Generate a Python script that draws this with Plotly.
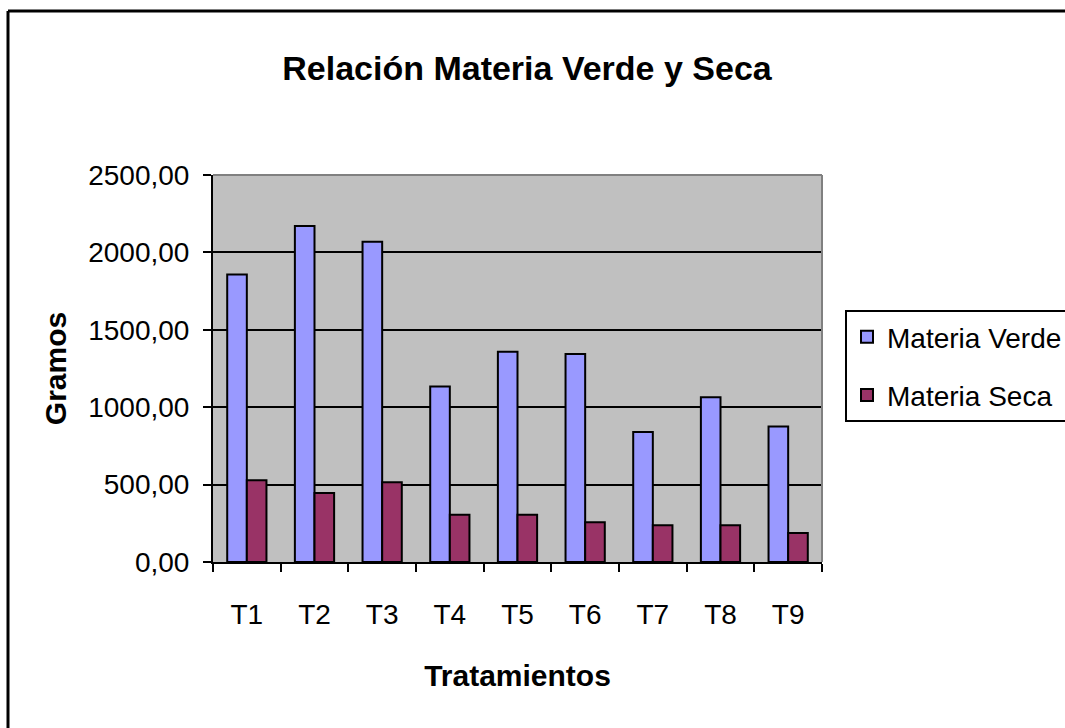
import plotly.graph_objects as go

categories = ["T1", "T2", "T3", "T4", "T5", "T6", "T7", "T8", "T9"]
materia_verde = [1858, 2170, 2069, 1134, 1358, 1343, 840, 1065, 875]
materia_seca = [528, 446, 515, 306, 306, 256, 237, 237, 188]

W, H = 1065, 728
L, R, T, B = 213, 822, 175, 562  # plot area in pixels

def px(x):
    return (x - L) / (R - L)

def py(y):
    return (B - y) / (B - T)

FONT = "Liberation Sans, Arial, sans-serif"

fig = go.Figure()
fig.add_trace(go.Bar(
    x=categories, y=materia_verde, name="Materia Verde",
    marker=dict(color="#9999FF", line=dict(color="black", width=2)),
    legendgroup="a",
))
fig.add_trace(go.Bar(
    x=categories, y=materia_seca, name="Materia Seca",
    marker=dict(color="#993366", line=dict(color="black", width=2)),
    legendgroup="b",
))

fig.update_layout(
    width=W, height=H,
    margin=dict(l=L, r=W - R, t=T, b=H - B, autoexpand=False),
    paper_bgcolor="white",
    plot_bgcolor="#C0C0C0",
    separators=",.",
    barmode="group",
    bargap=0.42,
    bargroupgap=0,
    font=dict(family=FONT, size=28, color="black"),
    title=dict(
        text="<b>Relación Materia Verde y Seca</b>",
        font=dict(size=34, family=FONT),
        x=px(527), xref="paper", xanchor="center",
        y=1 - 68 / H, yref="container", yanchor="middle",
    ),
    legend=dict(
        x=px(845), y=py(310), xanchor="left", yanchor="top",
        bordercolor="black", borderwidth=2, bgcolor="white",
        font=dict(size=28),
        traceorder="grouped", tracegroupgap=19,
        itemwidth=30,
    ),
    showlegend=True,
)

fig.update_xaxes(
    showline=True, linecolor="black", linewidth=2,
    ticks="outside", tickson="boundaries", ticklen=8, tickwidth=2, tickcolor="black",
    showgrid=False,
    tickfont=dict(size=28),
    ticklabelstandoff=26,
    title=dict(text="<b>Tratamientos</b>", font=dict(size=30), standoff=36),
)
fig.update_yaxes(
    range=[0, 2500], dtick=500, tickformat=".2f",
    showline=True, linecolor="black", linewidth=2,
    ticks="outside", ticklen=8, tickwidth=2, tickcolor="black",
    showgrid=True, gridcolor="black", gridwidth=2,
    zeroline=False,
    tickfont=dict(size=28),
    ticklabelstandoff=8,
    title=dict(text="<b>Gramos</b>", font=dict(size=30), standoff=13),
)

# grey top and right plot-area borders
fig.add_shape(type="line", xref="paper", yref="paper", x0=0, x1=1, y0=1, y1=1,
              line=dict(color="#808080", width=2), layer="above")
fig.add_shape(type="line", xref="paper", yref="paper", x0=1, x1=1, y0=0, y1=1,
              line=dict(color="#808080", width=2), layer="above")
# outer chart frame (only left and top edges are visible)
fig.add_shape(type="line", xref="paper", yref="paper",
              x0=px(8), x1=px(8), y0=py(740), y1=py(11),
              line=dict(color="black", width=3), layer="above")
fig.add_shape(type="line", xref="paper", yref="paper",
              x0=px(8), x1=px(1065), y0=py(11), y1=py(11),
              line=dict(color="black", width=3), layer="above")

fig.write_html(
    "out.html", config={"displayModeBar": False},
    include_plotlyjs=True,
    post_script=(
        "document.body.style.margin='0';"
        "document.body.style.overflow='hidden';"
        "document.documentElement.style.overflow='hidden';"
        "var el=document.querySelector('.plotly-graph-div');"
        "if(el){el.style.overflow='hidden';}"
    ),
)
